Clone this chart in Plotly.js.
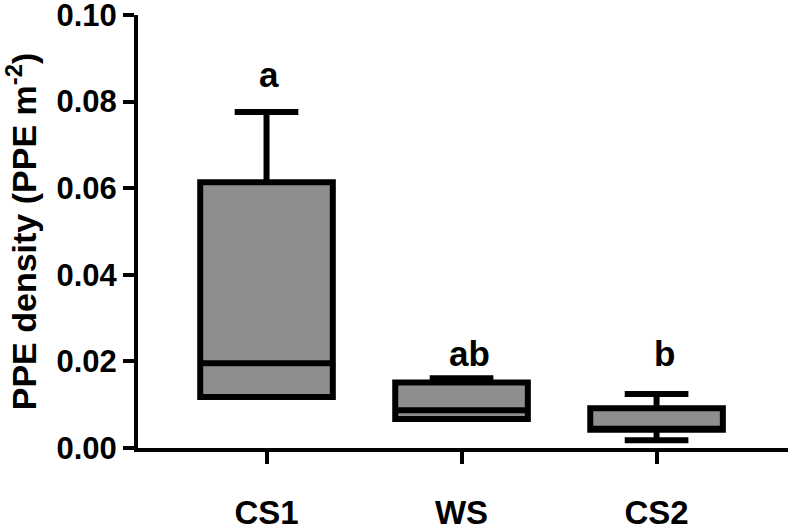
<!DOCTYPE html>
<html>
<head>
<meta charset="utf-8">
<script src="https://cdn.plot.ly/plotly-3.0.1.min.js"></script>
<style>html,body{margin:0;padding:0;background:#fff;}#chart{width:792px;height:532px;}</style>
</head>
<body>
<div id="chart"></div>
<script>
const categories = ["CS1", "WS", "CS2"];
const lowerWhisker = [0.0118, 0.0067, 0.0018];
const q1 = [0.0118, 0.0067, 0.0042];
const median = [0.0196, 0.0087, 0.0044];
const q3 = [0.0614, 0.0151, 0.0092];
const upperWhisker = [0.0776, 0.0161, 0.0125];
const letters = ["a", "ab", "b"];
const letterY = [0.0862, 0.0218, 0.0218];
const yTickVals = [0, 0.02, 0.04, 0.06, 0.08, 0.10];
const yTickText = ["0.00", "0.02", "0.04", "0.06", "0.08", "0.10"];

const font = "Liberation Sans, Arial, Helvetica, sans-serif";

const trace = {
  type: "box",
  x: categories,
  q1: q1,
  median: median,
  q3: q3,
  lowerfence: lowerWhisker,
  upperfence: upperWhisker,
  fillcolor: "#8e8e8e",
  line: {color: "#000000", width: 6},
  width: 0.68,
  whiskerwidth: 0.48,
  boxpoints: false,
  hoverinfo: "skip",
  showlegend: false
};

const annotations = categories.map((c, i) => ({
  x: c, y: letterY[i], xref: "x", yref: "y",
  text: "<b>" + letters[i] + "</b>", showarrow: false,
  xshift: i === 0 ? 2 : 8,
  font: {family: font, size: 35, color: "#000"}
}));

const layout = {
  width: 792, height: 532,
  margin: {l: 138, r: 4, t: 15, b: 84, pad: 0},
  paper_bgcolor: "#fff", plot_bgcolor: "#fff",
  font: {family: font, color: "#000"},
  xaxis: {
    type: "category",
    range: [-0.659, 2.674],
    showline: true, linecolor: "#000", linewidth: 4,
    ticks: "outside", ticklen: 12, tickwidth: 4, tickcolor: "#000",
    showgrid: false, zeroline: false,
    ticklabelstandoff: 20,
    ticklabeloverflow: "allow",
    tickfont: {family: font, size: 33, color: "#000", weight: "bold"}
  },
  yaxis: {
    range: [0, 0.1],
    tickmode: "array", tickvals: yTickVals, ticktext: yTickText,
    showline: true, linecolor: "#000", linewidth: 4,
    ticks: "outside", ticklen: 11, tickwidth: 4, tickcolor: "#000",
    showgrid: false, zeroline: false,
    ticklabelstandoff: 0,
    ticklabeloverflow: "allow",
    tickfont: {family: font, size: 31, color: "#000", weight: "bold"},
    title: {
      text: "<b>PPE density (PPE m<sup>-2</sup>)</b>",
      font: {family: font, size: 34, color: "#000"},
      standoff: 16
    }
  },
  annotations: annotations
};

Plotly.newPlot("chart", [trace], layout, {staticPlot: true, displayModeBar: false});
</script>
</body>
</html>
